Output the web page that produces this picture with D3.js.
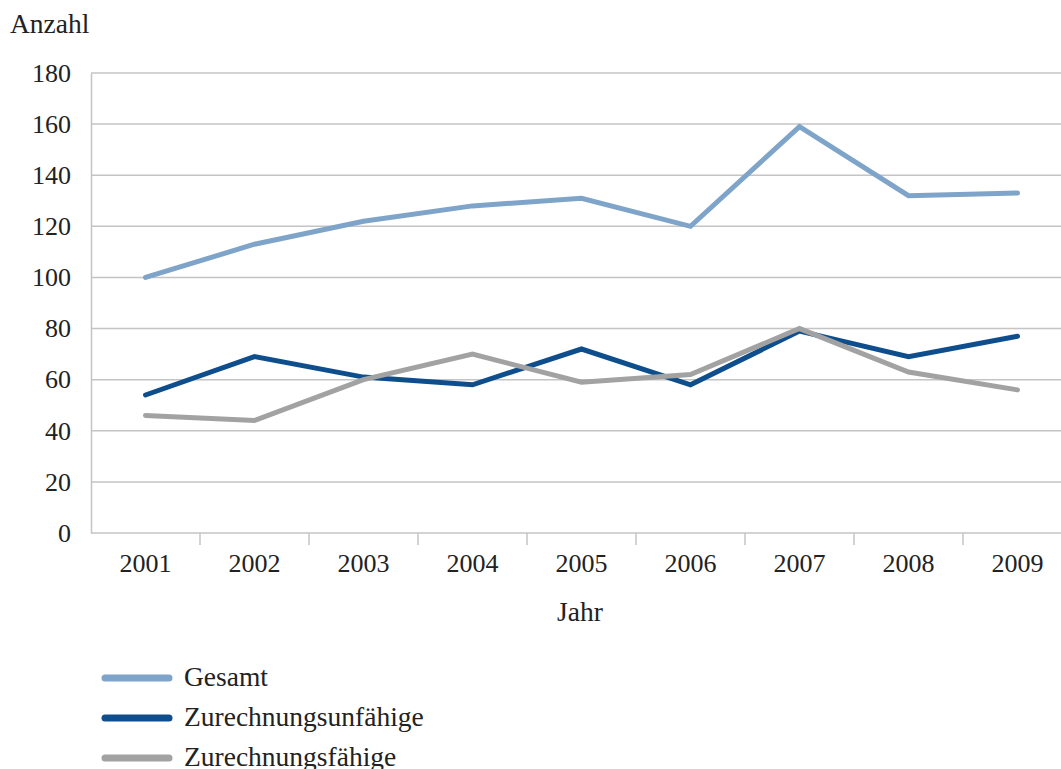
<!DOCTYPE html>
<html>
<head>
<meta charset="utf-8">
<script src="https://cdn.jsdelivr.net/npm/d3@7"></script>
<style>
  html, body { margin: 0; padding: 0; background: #fff; }
  svg { display: block; }
  svg text { font-family: "Liberation Serif", "DejaVu Serif", serif; fill: #222; }
</style>
</head>
<body>
<svg id="chart" width="1061" height="769"></svg>
<script>
// Jahre und Anzahl der Fälle
const years = ["2001", "2002", "2003", "2004", "2005", "2006", "2007", "2008", "2009"];
const gesamt = [100, 113, 122, 128, 131, 120, 159, 132, 133];
const unfaehige = [54, 69, 61, 58, 72, 58, 79, 69, 77];
const faehige = [46, 44, 60, 70, 59, 62, 80, 63, 56];
const yTicks = [0, 20, 40, 60, 80, 100, 120, 140, 160, 180];
const seriesNames = ["Gesamt", "Zurechnungsunfähige", "Zurechnungsfähige"];
const seriesColors = ["#7fa4c9", "#0f4e8d", "#a2a2a2"];

const series = [gesamt, unfaehige, faehige].map((values, i) => ({
  name: seriesNames[i],
  color: seriesColors[i],
  values: values
}));

const svg = d3.select("#chart");
const plotLeft = 91, plotRight = 1072, plotTop = 73, plotBottom = 533;
const numSize = 26, wordSize = 27.5;

const x = d3.scaleBand().domain(years).range([plotLeft, plotRight]);
const y = d3.scaleLinear().domain([0, 180]).range([plotBottom, plotTop]);

// horizontal gridlines
svg.append("g")
  .selectAll("line")
  .data(yTicks.filter(d => d > 0))
  .join("line")
  .attr("x1", plotLeft).attr("x2", plotRight)
  .attr("y1", d => y(d)).attr("y2", d => y(d))
  .attr("stroke", "#c4c4c4").attr("stroke-width", 1.5);

// y axis
const yAxis = svg.append("g")
  .attr("transform", `translate(${plotLeft},0)`)
  .call(d3.axisLeft(y).tickValues(yTicks).tickSize(0).tickPadding(20));
yAxis.attr("font-family", null).attr("font-size", null);
yAxis.select(".domain").attr("stroke", "#c4c4c4").attr("stroke-width", 1.5);
yAxis.selectAll("text")
  .style("font-family", "'Liberation Serif', serif")
  .style("font-size", numSize + "px")
  .attr("fill", "#222");

// x axis with ticks between categories
const xAxisG = svg.append("g").attr("transform", `translate(0,${plotBottom})`);
xAxisG.append("line")
  .attr("x1", plotLeft).attr("x2", plotRight)
  .attr("stroke", "#c4c4c4").attr("stroke-width", 1.5);
xAxisG.selectAll("line.sep")
  .data(years.slice(1))
  .join("line")
  .attr("class", "sep")
  .attr("x1", d => x(d)).attr("x2", d => x(d))
  .attr("y1", 0).attr("y2", 12)
  .attr("stroke", "#c4c4c4").attr("stroke-width", 1.5);
xAxisG.selectAll("text")
  .data(years)
  .join("text")
  .attr("x", d => x(d) + x.bandwidth() / 2)
  .attr("y", 39)
  .attr("text-anchor", "middle")
  .style("font-size", numSize + "px")
  .text(d => d);

// axis titles
svg.append("text").attr("x", 10).attr("y", 33)
  .style("font-size", wordSize + "px").text("Anzahl");
svg.append("text").attr("x", 580).attr("y", 621).attr("text-anchor", "middle")
  .style("font-size", wordSize + "px").text("Jahr");

// lines
const line = d3.line()
  .x((d, i) => x(years[i]) + x.bandwidth() / 2)
  .y(d => y(d));

svg.append("g")
  .selectAll("path")
  .data(series)
  .join("path")
  .attr("d", d => line(d.values))
  .attr("fill", "none")
  .attr("stroke", d => d.color)
  .attr("stroke-width", 5)
  .attr("stroke-linejoin", "miter")
  .attr("stroke-linecap", "round");

// legend
const legend = svg.append("g")
  .selectAll("g")
  .data(series)
  .join("g")
  .attr("transform", (d, i) => `translate(105,${678 + i * 40})`);
legend.append("line")
  .attr("x1", 0).attr("x2", 64)
  .attr("stroke", d => d.color)
  .attr("stroke-width", 7)
  .attr("stroke-linecap", "round");
legend.append("text")
  .attr("x", 79).attr("y", 8)
  .style("font-size", wordSize + "px")
  .text(d => d.name);
</script>
</body>
</html>
